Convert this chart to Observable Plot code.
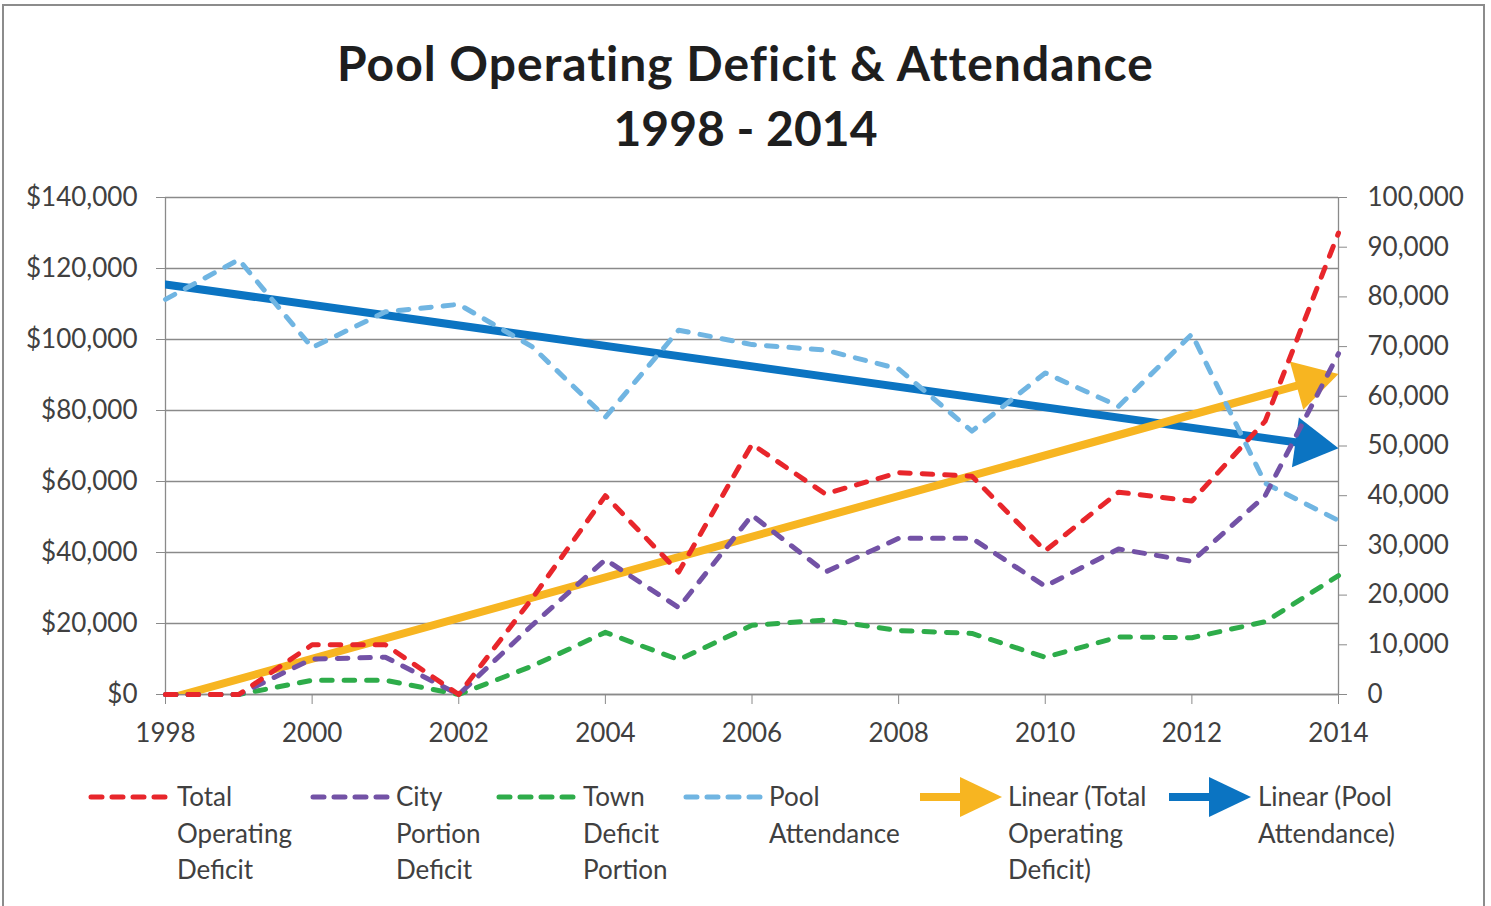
<!DOCTYPE html>
<html>
<head>
<meta charset="utf-8">
<script src="https://cdn.jsdelivr.net/npm/d3@7"></script>
<script src="https://cdn.jsdelivr.net/npm/@observablehq/plot@0.6"></script>
<style>
  html, body { margin: 0; padding: 0; background: #fff; }
  body { width: 1491px; height: 906px; position: relative; overflow: hidden; font-family: Lato, "Open Sans", sans-serif; }
  #frame { position: absolute; left: 2px; top: 4px; width: 1483px; height: 920px; border: 2px solid #8c8c8c; box-sizing: border-box; }
  #title { position: absolute; left: 0; top: 30px; width: 1491px; text-align: center; font-weight: bold; font-size: 48px; line-height: 65px; color: #1e1e1e; }
  #title .l1 { letter-spacing: 1px; }
  #chart { position: absolute; left: 0; top: 180px; }
  .leg { position: absolute; top: 778px; font-size: 26px; line-height: 36.5px; color: #404040; white-space: nowrap; }
  .sw { position: absolute; top: 775px; }
</style>
</head>
<body>
<div id="frame"></div>
<div id="title"><span class="l1">Pool Operating Deficit &amp; Attendance</span><br>1998 - 2014</div>
<div id="chart"></div>
<div id="legend"></div>
<script>
// ---------- data ----------
const years = [1998, 1999, 2000, 2001, 2002, 2003, 2004, 2005, 2006, 2007, 2008, 2009, 2010, 2011, 2012, 2013, 2014];
const totalDeficit = [0, 0, 14000, 14000, 0, 27000, 56000, 34500, 70500, 56500, 62500, 61500, 40500, 57000, 54500, 77000, 130000];
const cityDeficit = [0, 0, 10000, 10500, 0, 19500, 38000, 24500, 50500, 34500, 44000, 44000, 30500, 41000, 37500, 56000, 96000];
const townDeficit = [0, 0, 4000, 4000, 0, 8000, 17500, 9800, 19500, 21000, 18000, 17200, 10500, 16200, 16000, 20500, 33500];
const poolAttendance = [79500, 87500, 69800, 77000, 78500, 70000, 55800, 73300, 70400, 69300, 65500, 53000, 64700, 58000, 72500, 42500, 35000];
const xTickYears = [1998, 2000, 2002, 2004, 2006, 2008, 2010, 2012, 2014];
const leftTicks = [0, 20000, 40000, 60000, 80000, 100000, 120000, 140000];
const rightTicks = [0, 10000, 20000, 30000, 40000, 50000, 60000, 70000, 80000, 90000, 100000];
const seriesNames = ["Total Operating Deficit", "City Portion Deficit", "Town Deficit Portion", "Pool Attendance"];
const legendLines = [
  ["Total", "Operating", "Deficit"],
  ["City", "Portion", "Deficit"],
  ["Town", "Deficit", "Portion"],
  ["Pool", "Attendance"],
  ["Linear (Total", "Operating", "Deficit)"],
  ["Linear (Pool", "Attendance)"]
];

// ---------- styling ----------
const colors = { total: "#e8262b", city: "#7352a6", town: "#2eac4a", pool: "#70b5e2", trendTotal: "#f7b521", trendPool: "#0b74c2" };
const gridColor = "#8a8a8a";

// right axis (attendance) shares the pixel range with the left axis
const leftMax = leftTicks[leftTicks.length - 1];
const rightMax = rightTicks[rightTicks.length - 1];
const k = leftMax / rightMax;

const rows = years.map((year, i) => ({
  year, total: totalDeficit[i], city: cityDeficit[i], town: townDeficit[i], pool: poolAttendance[i] * k
}));

// least-squares trend lines (as Excel's "Linear" trendline)
function fit(ys) {
  const mx = d3.mean(years), my = d3.mean(ys);
  let sxy = 0, sxx = 0;
  years.forEach((x, i) => { sxy += (x - mx) * (ys[i] - my); sxx += (x - mx) ** 2; });
  const b = sxy / sxx;
  return x => my + b * (x - mx);
}
const totalFit = fit(totalDeficit);
const poolFit = fit(poolAttendance);
const x0 = years[0], x1 = years[years.length - 1];

const W = 1491, H = 574;
const base = {
  width: W, height: H,
  marginTop: 17, marginBottom: 60, marginLeft: 165, marginRight: 153,
  x: { domain: [x0, x1] },
  y: { domain: [0, leftMax] },
  style: { fontFamily: "Lato, 'Open Sans', sans-serif", fontSize: "26px", color: "#404040", background: "transparent", overflow: "visible" }
};

// probe plot to get pixel geometry from the library's own scales
const probe = Plot.plot({ ...base, marks: [Plot.ruleY([0])] });
const sx = probe.scale("x"), sy = probe.scale("y");

const halfH = 14.5;          // triangle: tip at 2*halfH from centroid
const tipOff = 2 * halfH;
const dotR = Math.sqrt(3 * Math.sqrt(3) * halfH * halfH / Math.PI);

function arrow(fn, mult) {
  const ya = fn(x0) * mult, yb = fn(x1) * mult;
  const px0 = sx.apply(x0), py0 = sy.apply(ya), px1 = sx.apply(x1), py1 = sy.apply(yb);
  const ang = Math.atan2(py1 - py0, px1 - px0);
  const ex = sx.invert(px1 - tipOff * Math.cos(ang));
  const ey = sy.invert(py1 - tipOff * Math.sin(ang));
  return {
    shaft: [{ year: x0, value: ya }, { year: ex, value: ey }],
    tip: [{ year: x1, value: yb }],
    rotate: ang * 180 / Math.PI + 90,
    dx: -tipOff * Math.cos(ang),
    dy: -tipOff * Math.sin(ang)
  };
}
const aTotal = arrow(totalFit, 1);
const aPool = arrow(poolFit, k);

const dash = { strokeWidth: 5, strokeDasharray: "10.5,12", strokeLinecap: "round", strokeLinejoin: "round" };

const chart = Plot.plot({
  ...base,
  marks: [
    Plot.gridY(leftTicks, { stroke: gridColor, strokeOpacity: 1, strokeWidth: 1.3 }),
    Plot.ruleX([x0, x1], { stroke: gridColor, strokeWidth: 1.3 }),
    Plot.ruleY([0], { stroke: gridColor, strokeWidth: 1.3 }),
    Plot.axisY(leftTicks, { anchor: "left", tickSize: 9, tickPadding: 19, stroke: gridColor, fill: "#404040", fontSize: 26, label: null,
      tickFormat: d => "$" + d3.format(",")(d) }),
    Plot.axisY(rightTicks.map(v => v * k), { anchor: "right", tickSize: 8, tickPadding: 21, stroke: gridColor, fill: "#404040", fontSize: 26, label: null,
      tickFormat: d => d3.format(",")(Math.round(d / k)) }),
    Plot.axisX(xTickYears, { anchor: "bottom", tickSize: 10, tickPadding: 19, stroke: gridColor, fill: "#404040", fontSize: 26, label: null,
      tickFormat: d => String(d) }),
    // trend lines (arrows)
    Plot.line(aPool.shaft, { x: "year", y: "value", stroke: colors.trendPool, strokeWidth: 8, clip: true }),
    Plot.dot(aPool.tip, { x: "year", y: "value", symbol: "triangle", r: dotR, fill: colors.trendPool, stroke: "none", rotate: aPool.rotate, dx: aPool.dx, dy: aPool.dy }),
    Plot.line(aTotal.shaft, { x: "year", y: "value", stroke: colors.trendTotal, strokeWidth: 8, clip: true }),
    Plot.dot(aTotal.tip, { x: "year", y: "value", symbol: "triangle", r: dotR, fill: colors.trendTotal, stroke: "none", rotate: aTotal.rotate, dx: aTotal.dx, dy: aTotal.dy }),
    // series
    Plot.line(rows, { x: "year", y: "pool", stroke: colors.pool, ...dash, title: () => seriesNames[3] }),
    Plot.line(rows, { x: "year", y: "town", stroke: colors.town, ...dash, title: () => seriesNames[2] }),
    Plot.line(rows, { x: "year", y: "city", stroke: colors.city, ...dash, title: () => seriesNames[1] }),
    Plot.line(rows, { x: "year", y: "total", stroke: colors.total, ...dash, title: () => seriesNames[0] })
  ]
});
document.getElementById("chart").appendChild(chart);

// ---------- legend ----------
const legendColors = [colors.total, colors.city, colors.town, colors.pool, colors.trendTotal, colors.trendPool];
const swatchX = [86, 308, 494, 681, 918, 1167];
const textX = [177, 396, 583, 769, 1008, 1258];
const leg = document.getElementById("legend");
legendLines.forEach((lines, i) => {
  const isArrow = i >= 4;
  const svgNS = "http://www.w3.org/2000/svg";
  const s = document.createElementNS(svgNS, "svg");
  s.setAttribute("width", 88); s.setAttribute("height", 44);
  s.setAttribute("class", "sw");
  s.style.left = swatchX[i] + "px";
  if (isArrow) {
    const l = document.createElementNS(svgNS, "line");
    l.setAttribute("x1", 2); l.setAttribute("x2", 46); l.setAttribute("y1", 22); l.setAttribute("y2", 22);
    l.setAttribute("stroke", legendColors[i]); l.setAttribute("stroke-width", 8);
    const p = document.createElementNS(svgNS, "polygon");
    p.setAttribute("points", "42,2 84,22 42,42");
    p.setAttribute("fill", legendColors[i]);
    s.appendChild(l); s.appendChild(p);
  } else {
    const l = document.createElementNS(svgNS, "line");
    l.setAttribute("x1", 5); l.setAttribute("x2", 86); l.setAttribute("y1", 22); l.setAttribute("y2", 22);
    l.setAttribute("stroke", legendColors[i]); l.setAttribute("stroke-width", 5);
    l.setAttribute("stroke-dasharray", "11,10"); l.setAttribute("stroke-linecap", "round");
    s.appendChild(l);
  }
  leg.appendChild(s);
  const t = document.createElement("div");
  t.className = "leg";
  t.style.left = textX[i] + "px";
  t.innerHTML = lines.join("<br>");
  leg.appendChild(t);
});
</script>
</body>
</html>
